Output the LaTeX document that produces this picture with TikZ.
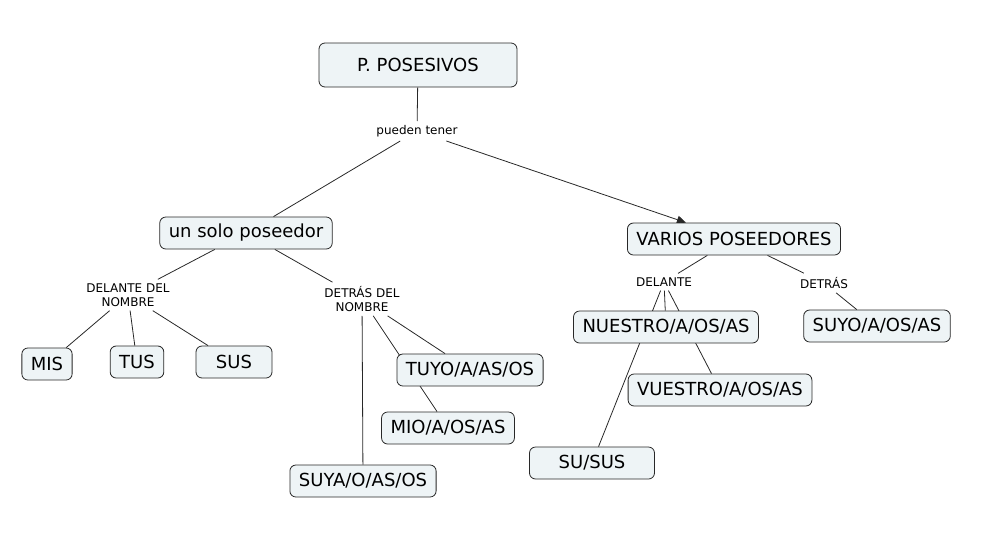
\documentclass[tikz,border=0pt]{standalone}
\usepackage{fontspec}
\setmainfont{DejaVu Sans}
\usepackage{tikz}
\usetikzlibrary{arrows.meta}
\usetikzlibrary{backgrounds}
\definecolor{boxfill}{RGB}{238,244,246}
\definecolor{linegray}{RGB}{40,40,40}

\begin{document}
\begin{tikzpicture}[x=1pt,y=-1pt]
	\useasboundingbox (0,0) rectangle (999,542);
	\begin{scope}[every node/.style={draw=linegray,fill=boxfill,rounded corners=6pt,line width=0.8pt,minimum height=32pt,inner xsep=9pt,font=\fontsize{18}{21}\selectfont}]
	\node[minimum width=198pt,minimum height=44pt] (PP) at (418,65) {P. POSESIVOS};
	\node (US) at (246,233) {un solo poseedor};
	\node (VP) at (734,239) {VARIOS POSEEDORES};
	\node (MIS) at (47,364) {MIS};
	\node (TUS) at (137,362) {TUS};
	\node[minimum width=76pt] (SUS) at (234,362) {SUS};
	\node (TUYO) at (470,370) {TUYO/A/AS/OS};
	\node (MIO) at (448,428) {MIO/A/OS/AS};
	\node (SUYA) at (363,481) {SUYA/O/AS/OS};
	\node (NUES) at (666,327) {NUESTRO/A/OS/AS};
	\node (SUYO) at (877,326) {SUYO/A/OS/AS};
	\node (VUES) at (720,390) {VUESTRO/A/OS/AS};
	\node[minimum width=125pt] (SUSUS) at (592,463) {SU/SUS};
	\end{scope}

	\begin{scope}[every node/.style={align=center,inner sep=4pt,font=\fontsize{12}{14}\selectfont}]
	\node (pt) at (417,131) {pueden tener};
	\node (DDN) at (128,295) {DELANTE DEL\\NOMBRE};
	\node (TDN) at (362,299) {DETRÁS DEL\\NOMBRE};
	\node (del) at (664,282) {DELANTE};
	\node (det) at (824,283) {DETRÁS};
	\end{scope}

	\begin{scope}[on background layer,>={Triangle[length=9pt,width=8pt]},
	every edge/.style={draw=linegray,line width=0.8pt}]
	\path [-] (PP) edge (pt);
	\path [-] (pt) edge (US);
	\path [->] (pt) edge (VP);
	\path [-] (US) edge (DDN);
	\path [-] (US) edge (TDN);
	\path [-] (DDN) edge (MIS);
	\path [-] (DDN) edge (TUS);
	\path [-] (DDN) edge (SUS);
	\path [-] (TDN) edge (TUYO);
	\path [-] (TDN) edge (MIO);
	\path [-] (TDN) edge (SUYA);
	\path [-] (VP) edge (del);
	\path [-] (VP) edge (det);
	\path [-] (del) edge (NUES);
	\path [-] (del) edge (VUES);
	\path [-] (del) edge (SUSUS);
	\path [-] (det) edge (SUYO);
	\end{scope}
\end{tikzpicture}
\end{document}
